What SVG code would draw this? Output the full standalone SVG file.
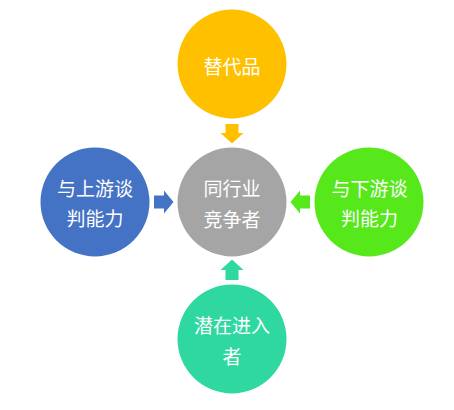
<svg xmlns="http://www.w3.org/2000/svg" width="454" height="410" viewBox="0 0 454 410">
<style>
.t{font-family:"Noto Sans CJK SC","Liberation Sans",sans-serif;font-size:19px;fill:#fff;text-anchor:middle;dominant-baseline:central}
</style>
<rect width="454" height="410" fill="#fff"/>
<g id="connectors">
<path d="M225.5 124 H238.5 V133 H243.5 L232 143.5 L220.5 133 H225.5 Z" fill="#FFC000"/>
<path d="M154 195.5 V208.5 H164 V213.5 L173.5 202 L164 190.5 V195.5 Z" fill="#4472C4"/>
<path d="M310 195.5 V208.5 H300 V213.5 L290.5 202 L300 190.5 V195.5 Z" fill="#56E81B"/>
<path d="M225.5 280 H238.5 V270 H243.5 L232 259.5 L220.5 270 H225.5 Z" fill="#2ED8A0"/>
</g>
<g id="substitutes">
<circle cx="232" cy="64" r="54.5" fill="#FFC000"/>
<text class="t" x="232" y="65">替代品</text>
</g>
<g id="competitors">
<circle cx="232" cy="202" r="54.5" fill="#A5A5A5"/>
<text class="t" x="232" y="187">同行业</text>
<text class="t" x="232" y="218">竞争者</text>
</g>
<g id="suppliers">
<circle cx="95" cy="202" r="54.5" fill="#4472C4"/>
<text class="t" x="95" y="187">与上游谈</text>
<text class="t" x="95" y="217">判能力</text>
</g>
<g id="buyers">
<circle cx="369" cy="202" r="54.5" fill="#56E81B"/>
<text class="t" x="369.5" y="187">与下游谈</text>
<text class="t" x="369.5" y="217">判能力</text>
</g>
<g id="entrants">
<circle cx="232" cy="339" r="54.5" fill="#2ED8A0"/>
<text class="t" x="232" y="324">潜在进入</text>
<text class="t" x="232" y="355">者</text>
</g>
</svg>
